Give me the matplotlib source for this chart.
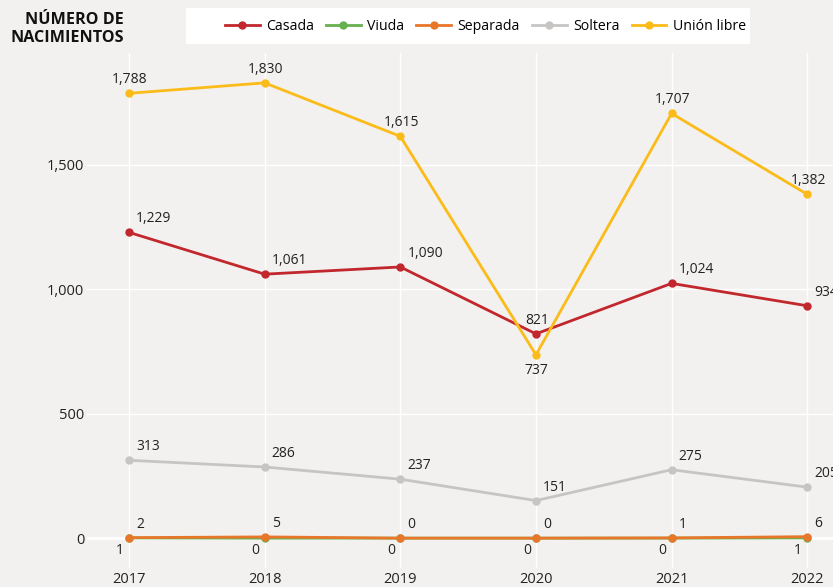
import matplotlib.pyplot as plt
from matplotlib.lines import Line2D
from matplotlib.patches import Rectangle

plt.rcParams['font.family'] = ['Open Sans', 'DejaVu Sans']

years = [2017, 2018, 2019, 2020, 2021, 2022]
casada = [1229, 1061, 1090, 821, 1024, 934]
viuda = [1, 0, 0, 0, 0, 1]
separada = [2, 5, 0, 0, 1, 6]
soltera = [313, 286, 237, 151, 275, 205]
union_libre = [1788, 1830, 1615, 737, 1707, 1382]

names = ['Casada', 'Viuda', 'Separada', 'Soltera', 'Unión libre']
colors = ['#c1272d', '#66b04f', '#e8772a', '#c6c5c3', '#fbbc1a']
series = [casada, viuda, separada, soltera, union_libre]

# label placement per point: 'r' = up-right, 'c' = above, 'b' = below, 'bl' = below-left
placement = {
    'Casada': ['r', 'r', 'r', 'c', 'r', 'r'],
    'Viuda': ['bl'] * 6,
    'Separada': ['r'] * 6,
    'Soltera': ['r'] * 6,
    'Unión libre': ['c', 'c', 'c', 'b', 'c', 'c'],
}
px = 0.72
offsets = {'r': ((7 * px, 6 * px), 'left', 'bottom'),
           'c': ((1 * px, 6 * px), 'center', 'bottom'),
           'b': ((0, -8 * px), 'center', 'top'),
           'bl': ((-9 * px, -5 * px), 'center', 'top')}

bg = '#f2f1ef'
fig = plt.figure(figsize=(8.33, 5.87), dpi=100, facecolor=bg)
ax = fig.add_axes([87 / 833, 19 / 587, 1 - 87 / 833, 515 / 587])
ax.set_facecolor(bg)

order = [3, 2, 1, 0, 4]
for i in order:
    name, vals, c = names[i], series[i], colors[i]
    ax.plot(years, vals, color=c, lw=2, marker='o', ms=5, zorder=3 + i, clip_on=False)
    for x, y, p in zip(years, vals, placement[name]):
        off, ha, va = offsets[p]
        ax.annotate(f'{y:,}', (x, y), xytext=off, textcoords='offset points',
                    ha=ha, va=va, fontsize=10, color='#222222', zorder=10,
                    annotation_clip=False)

ax.set_xlim(2016.69, 2022.19)
ax.set_ylim(-120, 1950)
ax.set_xticks(years)
ax.set_yticks([0, 500, 1000, 1500])
ax.set_yticklabels(['0', '500', '1,000', '1,500'])
ax.tick_params(length=0, labelsize=10.5, colors='#222222', pad=2)
ax.tick_params(axis='x', pad=3)
ax.grid(True, color='#ffffff', lw=1)
ax.axhline(0, color='#ffffff', lw=2, zorder=1)
for s in ax.spines.values():
    s.set_visible(False)
ax.set_axisbelow(True)

fig.text(124 / 833, 1 - 12 / 587, 'NÚMERO DE\nNACIMIENTOS', ha='right', va='top',
         fontsize=11.6, fontweight='bold', color='#111111', linespacing=1.2)

fig.patches.append(Rectangle((186 / 833, 1 - 44 / 587), 564 / 833, 36 / 587,
                             transform=fig.transFigure, facecolor='white',
                             edgecolor='none', zorder=0))
handles = [Line2D([], [], color=c, lw=2, marker='o', ms=5) for c in colors]
leg = fig.legend(handles, names, ncol=5, loc='center left',
                 bbox_to_anchor=(225 / 833, 1 - 26 / 587),
                 frameon=False, fontsize=10.2, handlelength=2.45, handletextpad=0.45,
                 columnspacing=0.85, borderpad=0, borderaxespad=0)

fig.savefig('out.png', dpi=100, facecolor=bg)
